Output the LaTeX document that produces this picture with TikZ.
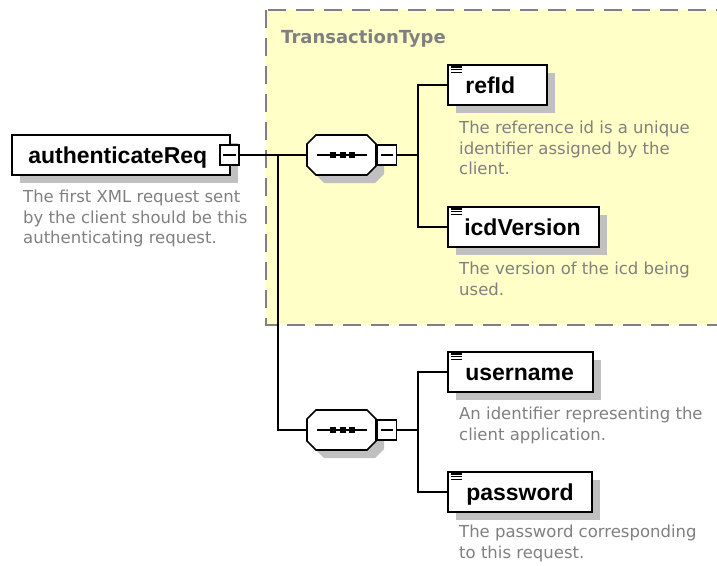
\documentclass[tikz,border=0pt]{standalone}
\usepackage{fontspec}
\setmainfont{Liberation Sans}
\newfontfamily\descfont{DejaVu Sans}
\usetikzlibrary{calc,shadows}

\definecolor{shadowgray}{RGB}{192,192,192}
\definecolor{descgray}{RGB}{128,128,128}
\definecolor{dashgray}{RGB}{128,128,128}
\definecolor{groupfill}{RGB}{255,255,200}

\begin{document}
\begin{tikzpicture}[x=1pt,y=-1pt,
  elem/.style={rectangle, draw=black, line width=1.8pt, fill=white, inner sep=0pt,
    minimum height=40pt,
    drop shadow={shadow xshift=8pt, shadow yshift=-8pt, fill=shadowgray, opacity=1}},
  elemtext/.style={font=\fontsize{23}{27}\selectfont\bfseries, anchor=base west, inner sep=0pt},
  desc/.style={font=\descfont\fontsize{16.5}{20.5}\selectfont, text=descgray, align=left,
    anchor=north west, inner sep=0pt},
  minbox/.style={rectangle, draw=black, line width=1.5pt, fill=white, inner sep=0pt,
    minimum width=19pt, minimum height=20pt},
  minusbar/.style={line width=1.3pt},
  seqframe/.style={rectangle, inner sep=0pt, minimum width=69pt, minimum height=40pt},
  octagon/.style={insert path={(-34.5,-11) -- (-25.5,-20) -- (25.5,-20) -- (34.5,-11)
    -- (34.5,11) -- (25.5,20) -- (-25.5,20) -- (-34.5,11) -- cycle}},
  conn/.style={line width=1.6pt},
  groupborder/.style={draw=dashgray, line width=1.5pt, dash pattern=on 18pt off 10pt, fill=groupfill},
  grouptitle/.style={font=\descfont\bfseries\fontsize{18}{22}\selectfont, text=descgray,
    anchor=base west, inner sep=0pt},
  elemicon/.style={line width=1.2pt}
]
\clip (0,0) rectangle (717,565);
\fill[white] (0,0) rectangle (717,565);

% complex type group
\draw[groupborder] (266,10) rectangle (745,325);
\node[grouptitle] (gtitle) at (281,43) {TransactionType};

% root element
\node[elem, minimum width=218pt] (root) at (121,155) {};
\node[elemtext] (rootlbl) at ($(root.west)+(17,8)$) {authenticateReq};
\node[minbox] (rootmin) at (229.5,155) {};
\draw[minusbar] ($(rootmin.west)+(4,0)$) -- ($(rootmin.east)+(-4,0)$);
\node[desc] (rootdesc) at (23,190) {The first XML request sent\\by the client should be this\\authenticating request.};

% sequence compositors
\foreach \s/\y in {seqA/155, seqB/430} {
  \node[seqframe] (\s) at (341.5,\y) {};
  \fill[shadowgray, shift={($(\s.center)+(8,8)$)}, octagon];
  \draw[line width=1.6pt, fill=white, shift={(\s.center)}, octagon];
  \draw[line width=1.5pt] ($(\s.center)+(-24.5,0)$) -- ($(\s.center)+(25.5,0)$);
  \foreach \dx in {-8.5,1.5,10.5}
    \fill ($(\s.center)+(\dx,0)+(-2.6,-2.6)$) rectangle +(5.2,5.2);
  \node[minbox] (\s min) at (387,\y) {};
  \draw[minusbar] ($(\s min.west)+(4,0)$) -- ($(\s min.east)+(-4,0)$);
}

% child elements
\node[elem, minimum width=99pt]  (refid) at (497.5,85) {};
\node[elem, minimum width=151pt] (icd)   at (523.5,227) {};
\node[elem, minimum width=145pt] (user)  at (520.5,372) {};
\node[elem, minimum width=144pt] (pass)  at (520,492) {};

\node[elemtext] (refidlbl) at ($(refid.west)+(18,8)$) {refId};
\node[elemtext] (icdlbl)   at ($(icd.west)+(17,8)$) {icdVersion};
\node[elemtext] (userlbl)  at ($(user.west)+(18,8)$) {username};
\node[elemtext] (passlbl)  at ($(pass.west)+(19,8)$) {password};

\foreach \e in {refid,icd,user,pass}
  \foreach \dy in {2.8,5.6,8.4}
    \draw[elemicon] ($(\e.north west)+(4,\dy)$) -- +(11,0);

\node[desc] (refiddesc) at (459,121) {The reference id is a unique\\identifier assigned by the\\client.};
\node[desc] (icddesc)   at (459,262) {The version of the icd being\\used.};
\node[desc] (userdesc)  at (459,407) {An identifier representing the\\client application.};
\node[desc] (passdesc)  at (459,525) {The password corresponding\\to this request.};

% connectors
\coordinate (forkroot) at (278,155);
\coordinate (forkA) at (418,155);
\coordinate (forkB) at (418,430);
\draw[conn] (rootmin.east) -- (seqA.west);
\draw[conn] (forkroot) |- (seqB.west);
\draw[conn] (seqAmin.east) -- (forkA);
\draw[conn] (refid.west) -| (forkA) |- (icd.west);
\draw[conn] (seqBmin.east) -- (forkB);
\draw[conn] (user.west) -| (forkB) |- (pass.west);
\end{tikzpicture}
\end{document}
